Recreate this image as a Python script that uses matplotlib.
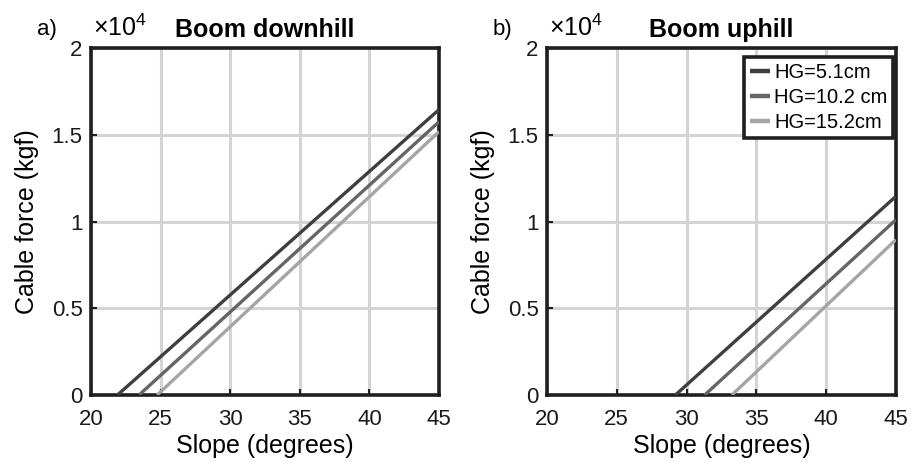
import matplotlib
matplotlib.use("Agg")
import matplotlib.pyplot as plt
from matplotlib.ticker import FuncFormatter

plt.rcParams['font.family'] = ['Liberation Sans', 'DejaVu Sans']
plt.rcParams['mathtext.fontset'] = 'custom'
plt.rcParams['mathtext.rm'] = 'Liberation Sans'
plt.rcParams['mathtext.it'] = 'Liberation Sans'

# Data: each line from zero-crossing slope to 45 degrees
series_labels = ['HG=5.1cm', 'HG=10.2 cm', 'HG=15.2cm']
down_slope_start = [21.9, 23.45, 24.75]
down_force_end = [16450, 15750, 15180]
up_slope_start = [29.2, 31.3, 33.25]
up_force_end = [11450, 10100, 8950]
slope_end = 45

titles = ['Boom downhill', 'Boom uphill']
panel_tags = ['a)', 'b)']
xticks = [20, 25, 30, 35, 40, 45]
yticks = [0, 5000, 10000, 15000, 20000]
colors = ['#3f3f3f', '#656565', '#a5a5a5']

fig = plt.figure(figsize=(9.11, 4.62), dpi=100)
ax1 = fig.add_axes([0.0999, 0.145, 0.382, 0.751])
ax2 = fig.add_axes([0.6004, 0.145, 0.383, 0.751])

panels = [(ax1, down_slope_start, down_force_end),
          (ax2, up_slope_start, up_force_end)]

for i, (ax, starts, ends) in enumerate(panels):
    for j in range(3):
        ax.plot([starts[j], slope_end], [0, ends[j]], color=colors[j], lw=2.4,
                label=series_labels[j], solid_capstyle='butt', zorder=3)
    ax.set_xlim(20, 45)
    ax.set_ylim(0, 20000)
    ax.set_xticks(xticks)
    ax.set_yticks(yticks)
    ax.yaxis.set_major_formatter(FuncFormatter(lambda v, p: ('%g' % (v / 1e4))))
    ax.grid(True, color='#d4d4d4', lw=2.2, zorder=0)
    ax.set_axisbelow(True)
    for s in ax.spines.values():
        s.set_linewidth(2.6)
        s.set_color('#1f1f1f')
    ax.tick_params(axis='both', labelsize=16, direction='in', length=4,
                   width=1.5, color='#1f1f1f', labelcolor='#1a1a1a')
    ax.tick_params(axis='x', pad=10)
    ax.tick_params(axis='y', pad=6)
    ax.set_xlabel('Slope (degrees)', fontsize=18, labelpad=3)
    ax.set_ylabel('Cable force (kgf)', fontsize=18, labelpad=9)
    ax.set_title(titles[i], fontsize=18, fontweight='bold', pad=8)
    ax.text(0.005, 1.02, '×10$^{4}$', transform=ax.transAxes, fontsize=18,
            ha='left', va='bottom')
    ax.text(-0.098, 1.022, panel_tags[i], transform=ax.transAxes, fontsize=16,
            ha='right', va='bottom')

leg = ax2.legend(loc='upper right', bbox_to_anchor=(0.993, 0.975),
                 fontsize=14.5, handlelength=1.0,
                 handletextpad=0.2, borderpad=0.3, labelspacing=0.3,
                 fancybox=False, framealpha=1, borderaxespad=0)
leg.get_frame().set_edgecolor('#1f1f1f')
leg.get_frame().set_linewidth(2.6)
for h in leg.get_lines():
    h.set_linewidth(3.2)

fig.savefig('out.png', dpi=100)
